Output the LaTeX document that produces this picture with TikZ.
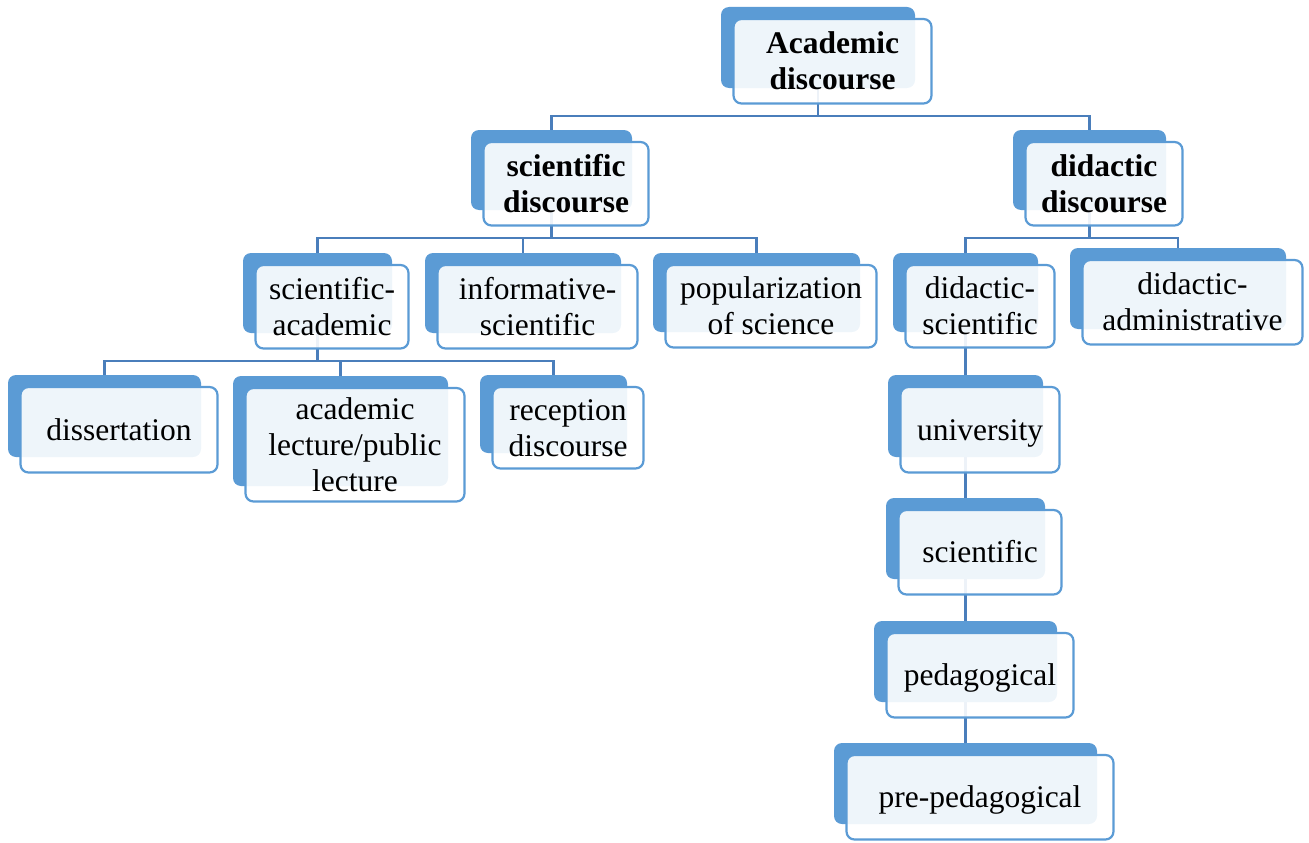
\documentclass[tikz,border=0pt]{standalone}
\usepackage{fontspec}
\setmainfont{Liberation Serif}
\newfontfamily\tnrfont{Liberation Serif}
\usetikzlibrary{backgrounds}
\definecolor{bluebk}{HTML}{5B9BD5}
\definecolor{conncol}{HTML}{4A7EBB}
\tikzset{
  backbox/.style={fill=bluebk, rounded corners=8pt, inner sep=0pt, draw=none},
  frontbox/.style={draw=bluebk, line width=2.2pt, fill=white, fill opacity=0.9, text opacity=1,
    rounded corners=8pt, inner sep=0pt, align=center},
  conn/.style={draw=conncol, line width=2.2pt},
}
\newcommand\topstrut{\rule{0pt}{28pt}}
\newcommand\botstrut{\rule[-6.6pt]{0pt}{6.6pt}}
\newcommand\tierbox[7]{%
  \node[backbox, minimum width={#4pt-#2pt}, minimum height={#5pt-#3pt}] (#1B) at ({(#2+#4)/2},{(#3+#5)/2}) {};
  \node[frontbox, font={\tnrfont\fontsize{31.5}{36}\selectfont #6}, minimum width={#4pt-#2pt+4pt}, minimum height={#5pt-#3pt+3.5pt}]
    (#1) at ({(#2+#4)/2+14.5},{(#3+#5)/2+13.75}) {\topstrut #7\botstrut};
}
\begin{document}
\begin{tikzpicture}[x=1pt,y=-1pt]
\useasboundingbox (0,0) rectangle (1309,843);
\tierbox{acad}{721}{7}{915}{88}{\bfseries}{Academic\\discourse}
\tierbox{scid}{471}{130}{632}{210}{\bfseries}{scientific\\discourse}
\tierbox{didd}{1013}{130}{1166}{210}{\bfseries}{didactic\\discourse}
\tierbox{sciac}{243}{253}{392}{333}{}{scientific-\\academic}
\tierbox{info}{425}{253}{621}{333}{}{informative-\\scientific}
\tierbox{pop}{653}{253}{860}{332}{}{popularization\\of science}
\tierbox{dsci}{893}{253}{1038}{332}{}{didactic-\\scientific}
\tierbox{dadm}{1070}{248}{1286}{329}{}{didactic-\\administrative}
\tierbox{diss}{8}{375}{201}{457}{}{dissertation}
\tierbox{lect}{233}{376}{448}{486}{}{academic\\lecture/public\\lecture}
\tierbox{recep}{480}{375}{627}{453}{}{reception\\discourse}
\tierbox{univ}{888}{375}{1043}{457}{}{university}
\tierbox{scien}{886}{498}{1045}{579}{}{scientific}
\tierbox{ped}{874}{621}{1057}{702}{}{pedagogical}
\tierbox{pre}{834}{743}{1097}{824}{}{pre-pedagogical}
\begin{scope}[on background layer]
  \path (acadB.south) ++(0,27.7) coordinate (j1);
  \path (scidB.south) ++(0,27.7) coordinate (j2);
  \path (diddB.south) ++(0,27.7) coordinate (j3);
  \path (sciacB.south) ++(0,27.7) coordinate (j4);
  \draw[conn] (acadB.south) -- (j1);
  \draw[conn] (scidB.north) |- (j1) -| (diddB.north);
  \draw[conn] (scidB.south) -- (j2);
  \draw[conn] (sciacB.north) |- (j2) -| (popB.north);
  \draw[conn] (j2 -| infoB.north) -- (infoB.north);
  \draw[conn] (diddB.south) -- (j3);
  \draw[conn] (dsciB.north) |- (j3) -| (dadmB.north);
  \draw[conn] (sciacB.south) -- (j4);
  \draw[conn] (dissB.north) |- (j4) -| (recepB.north);
  \draw[conn] (j4 -| lectB.north) -- (lectB.north);
  \draw[conn] (dsciB.south) -- (univB.north);
  \draw[conn] (univB.south) -- (scienB.north);
  \draw[conn] (scienB.south) -- (pedB.north);
  \draw[conn] (pedB.south) -- (preB.north);
\end{scope}
\end{tikzpicture}
\end{document}
